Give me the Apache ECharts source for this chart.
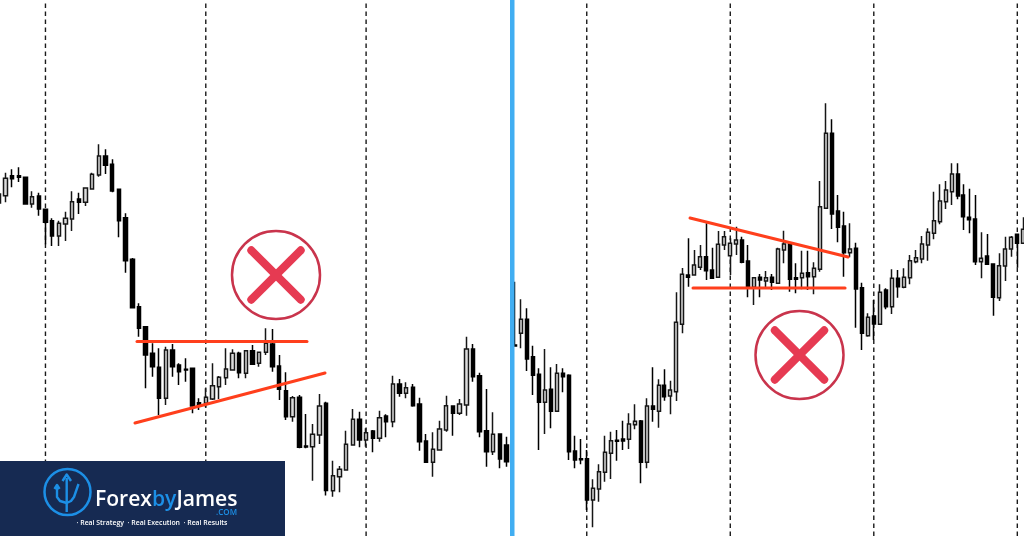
<!DOCTYPE html>
<html><head><meta charset="utf-8">
<style>html,body{margin:0;padding:0;background:#fff}#c{width:1024px;height:536px}</style>
<script src="https://cdn.jsdelivr.net/npm/echarts@6/dist/echarts.min.js"></script>
</head><body><div id="c"></div>
<script>
// each candle: [open, close, low, high] on an arbitrary price scale 0-536
const leftCandles=[[333,342,324,342],[340.3,357.7,333.7,363.3],[360.3,357.3,348.7,366.7],[360.3,358.7,354,368.7],[358.7,332,332,359],[332,339.3,328.3,344.7],[340,327,320.3,343.3],[326.7,313.7,291.7,327],[315.3,300,290,317.7],[300,312.7,290,315.3],
[312,317.7,295,324.3],[317,334.3,305,344.7],[337,333.7,322,343.3],[333.7,348,330,348.7],[347,361.7,347,363.3],[361,380,359.3,391.7],[380,370.7,362,386.7],[371.7,345,343.7,376.7],[346.7,315.3,298.7,347],[318.3,275.3,263.3,322.7],
[276.7,228.3,228.3,278],[229.3,207.7,199.3,232.7],[209.3,181,147.7,209.3],[182.7,169.3,159.3,192.7],[168.7,137.7,121,187.7],[137.7,186,131,189.3],[186,169.3,159.3,192],[171,164.3,151,172.7],[166.7,166,154.3,177.7],[167.7,130,122.7,168],
[133.3,130.7,126,137.7],[132.7,138.7,128.7,147.7],[137,150.3,136,172.7],[149.3,158.7,137,160],[158.3,167,151,187.7],[166,182.7,166,186.7],[182.7,163.3,157.7,184.3],[162.7,185.3,157.7,186],[185.3,171.7,171,191],[172.7,183.7,169.3,184.3],
[183.7,192.7,181,207.7],[192,169.3,164.3,207],[170,146.7,136,181],[145.3,119.3,116,163.7],[119.3,138.3,114.3,140],[138.7,88.7,87.7,141],[90,89,87.7,122],[89.3,101.7,55.3,112],[101,130,92,142],[132.7,45.5,40.5,134.3],
[45.3,60.3,39.3,75.3],[59.3,66.7,43.7,70],[66,91.7,66,105.3],[91,116.7,91,127],[116.7,96,88.7,124.3],[96,103.3,89.3,107.7],[105,97.7,83.7,106],[97.7,118.3,94.3,125.3],[120,114.3,98.7,121.7],[114.3,152,108.7,160.3],
[152,142.7,139.3,157],[142.7,148.3,137.7,153.7],[148.7,130.3,129.3,152],[132,94.3,85.3,138.3],[95,73.7,73.7,102],[73.7,86.7,59.3,103.7],[86,107,86,115.3],[106,130.3,104.3,140.3],[130,122.7,100.3,130.3],[122.7,132,121,137],
[131,187,120.3,199.3],[187,159.3,154.3,192],[160.3,104.3,98.7,163.3],[105.3,84.3,69.3,147],[84.3,101.7,81,123.7],[102,77,67.7,102.7],[91,74.3,69.3,99.3]];
const rightCandles=[[191,190,190,254.3],[202.7,216.7,187.7,236.7],[216.7,177,165,227.7],[179.3,160.7,141,190.3],[161.7,133.7,86,167.7],[133.7,146,102,187],[146.7,124.7,107.7,168.7],[124.7,162.7,124.7,172],[162.7,159.3,143.7,167.7],[160.7,84.3,76,161.7],
[85,76,67.7,100.3],[77.3,76.3,71.7,97],[77.3,36,26,86],[36,47.7,8.7,56.7],[47,64.3,34.3,71.7],[63.7,83.7,54.3,100.3],[82.7,95.3,57,104.3],[95.7,94.7,75.3,106],[97,95,86,115.3],[96.7,112,87,122.7],
[111.3,114.7,106.7,131.7],[115,73.7,52.7,116],[73.7,130,67.7,137.7],[130,126.7,114.3,168.7],[124.7,150.7,108.3,156.7],[150.7,139.3,135.3,166.7],[140,146,121.7,155.3],[144.3,213.7,135,243.7],[211.7,261.7,202.7,268],[261,258.7,249.3,297.7],
[261,271,261,286],[268.7,279.3,266,291],[279.3,265.3,256,312.7],[266,257.7,257.7,288.3],[258.7,291.7,258.7,305],[291,299.3,286,305],[280.3,292.7,261,297.7],[292,296,281,309.3],[296,273.7,272.7,299.3],[275,248.7,238.7,291],
[248.7,258.3,231,258.7],[258.7,256,238.7,262],[255,258.3,247.7,265],[258.7,253.7,246,262],[252.7,287,252.7,288.3],[286,292,272.7,305.3],[292,256.7,244.3,293.3],[258.3,256.7,242.7,272.7],[258.3,262.7,246.7,285.3],[263.3,259.3,246,285.3],
[259.3,267.7,241.7,273.7],[266.7,329.3,264.3,355],[327.7,402.7,327.7,432.7],[402.7,322,307,416.7],[325,308.7,293.7,341],[310,283.3,259.3,324.3],[283.3,287,278.7,312.7],[287.7,247,208.3,293.3],[248.3,202.7,186,253.3],[200.3,218.7,199.3,222.7],
[220,212,196,236],[211.7,243.7,211.7,251.7],[246,229.3,226.7,247.7],[229.3,257.7,222,266.7],[257.7,249.3,238.3,266],[248.7,258.7,247.7,267.7],[258.3,275.3,251.7,281],[274.3,278.3,272.7,286],[277,292,272.7,300],[291,303.7,275.3,307.7],
[302.7,315.3,296.7,344.3],[314.3,335,311.7,351.7],[334.3,346,327,355],[344.3,362,331,372.7],[362,340,336.7,372.7],[341,319.3,306,351.7],[318.7,316.3,302.7,347.3],[317,274.3,271,341],[274.3,277.7,257.7,303.7],[280,271.7,271,302],
[272,238.7,220.3,272.7],[238.3,270.3,235,282.7],[270,287,255,299.3],[287,298.7,279.3,300],[301.7,292.7,268.3,302],[292.7,306.7,292.7,318.7]];
// session separators, in candle positions
const leftSessions=[7,31,55];
const rightSessions=[12,36,60,84];
// drawn trend lines: [[position, price],[position, price]]
const leftTrend=[[[21.2,194.5],[46.65,194.5]],[[20.9,113],[49.35,163]]];
const rightTrend=[[[29.77,318],[56.2,279]],[[30.27,248],[55.7,248]]];
const PRICE_MAX=536;

const RED='#ff3f1c', XRED='#e63a52', RING='#c9344c', BLUE='#41aef2', NAVY='#162a52', LOGOBLUE='#1c8fe6';
const LEFT={left:-4.64,width:514.36}, RIGHT={left:512,width:514.28};

function panel(i,candles,sessions,trends,barW){
  const s=[];
  sessions.forEach(k=>s.push({type:'line',xAxisIndex:2*i+1,yAxisIndex:i,data:[[k+.5,0],[k+.5,PRICE_MAX]],symbol:'none',silent:true,z:1,
    lineStyle:{color:'#1a1a1a',width:1.4,type:[4.5,3.5]}}));
  s.push({type:'candlestick',xAxisIndex:2*i,yAxisIndex:i,data:candles,barWidth:barW,z:2,silent:true,
    itemStyle:{color:'#dcdcdc',color0:'#000',borderColor:'#161616',borderColor0:'#000',borderWidth:1.5}});
  trends.forEach(t=>s.push({type:'line',xAxisIndex:2*i+1,yAxisIndex:i,data:t,symbol:'none',silent:true,z:3,
    lineStyle:{color:RED,width:3,cap:'round'}}));
  return s;
}
function cats(n){return Array.from({length:n},(_,k)=>k);}
function xAxes(n){return [
  {type:'category',gridIndex:n.g,data:cats(n.count),show:false,boundaryGap:true},
  {type:'value',gridIndex:n.g,min:0,max:n.count,show:false,splitLine:{show:false}}];}
function ring(cx,cy){return [
  {type:'circle',shape:{cx,cy,r:44},style:{fill:'#fff',stroke:RING,lineWidth:2.5},z:5},
  {type:'line',shape:{x1:cx-24.7,y1:cy-24.7,x2:cx+24.7,y2:cy+24.7},style:{stroke:XRED,lineWidth:8,lineCap:'round'},z:6},
  {type:'line',shape:{x1:cx-24.7,y1:cy+24.7,x2:cx+24.7,y2:cy-24.7},style:{stroke:XRED,lineWidth:8,lineCap:'round'},z:6}];}
const tridentStroke={fill:'none',stroke:LOGOBLUE,lineWidth:2.4,lineJoin:'round'};
const graphic=[
  {type:'rect',shape:{x:510,y:0,width:4.5,height:536},style:{fill:BLUE},z:7},
  ...ring(276,275),...ring(799.5,355),
  {type:'rect',shape:{x:0,y:461,width:285,height:75},style:{fill:NAVY},z:8},
  {type:'circle',shape:{cx:67.5,cy:492,r:23},style:{fill:'none',stroke:LOGOBLUE,lineWidth:2.5},z:9},
  {type:'polyline',shape:{points:[[66.7,478],[66.7,512]]},style:tridentStroke,z:9},
  {type:'polyline',shape:{points:[[62.5,481],[66.7,474.5],[71,481]]},style:tridentStroke,z:9},
  {type:'polyline',shape:{points:[[57,487],[57,497],[60,501],[66.7,503]]},style:tridentStroke,z:9},
  {type:'polyline',shape:{points:[[54.5,489],[57,485],[59.5,489]]},style:tridentStroke,z:9},
  {type:'polyline',shape:{points:[[78.5,484],[74,497],[71,501],[66.7,503]]},style:tridentStroke,z:9},
  {type:'text',x:95,y:489.5,z:9,style:{text:'{w|Forex}{b|by}{w|James}',rich:{
      w:{fill:'#fff',font:'600 21.1px "Open Sans"'},b:{fill:LOGOBLUE,font:'600 21.1px "Open Sans"'}}}},
  {type:'text',x:237,y:509,z:9,style:{text:'.COM',fill:LOGOBLUE,font:'600 8px "Open Sans"',align:'right'}},
  {type:'text',x:152,y:519.5,z:9,style:{text:'· Real Strategy  · Real Execution  · Real Results',fill:'#fff',font:'600 6.9px "Open Sans"',align:'center'}}
];
const chart=echarts.init(document.getElementById('c'),null,{renderer:'canvas'});
chart.setOption({
  animation:false,backgroundColor:'#fff',
  grid:[{left:LEFT.left,width:LEFT.width,top:0,height:536,containLabel:false,outerBoundsMode:'none'},{left:RIGHT.left,width:RIGHT.width,top:0,height:536,containLabel:false,outerBoundsMode:'none'}],
  xAxis:[...xAxes({g:0,count:leftCandles.length}),...xAxes({g:1,count:rightCandles.length})],
  yAxis:[0,1].map(g=>({type:'value',gridIndex:g,min:0,max:PRICE_MAX,show:false,splitLine:{show:false}})),
  series:[...panel(0,leftCandles,leftSessions,leftTrend,3.9),...panel(1,rightCandles,rightSessions,rightTrend,3.5)],
  graphic:{elements:graphic}
});
</script></body></html>
